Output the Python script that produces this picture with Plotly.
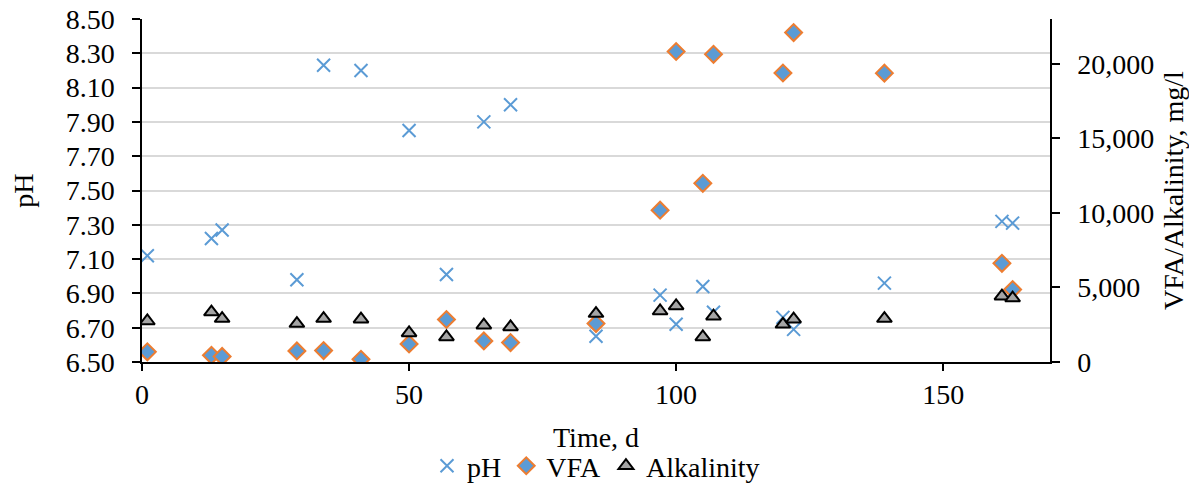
import plotly.graph_objects as go

days = [1, 13, 15, 29, 34, 41, 50, 57, 64, 69, 85, 97, 100, 105, 107, 120, 122, 139, 161, 163]
ph = [7.12, 7.22, 7.27, 6.98, 8.23, 8.20, 7.85, 7.01, 7.90, 8.00, 6.65, 6.89, 6.72, 6.94, 6.79, 6.76, 6.69, 6.96, 7.32, 7.31]
vfa = [680, 450, 370, 740, 770, 180, 1210, 2850, 1410, 1300, 2580, 10180, 20820, 11980, 20630, 19380, 22090, 19370, 6620, 4860]
alkalinity = [2750, 3350, 2910, 2580, 2910, 2870, 1950, 1680, 2470, 2350, 3250, 3420, 3760, 1680, 3070, 2530, 2870, 2910, 4410, 4290]

FONT = "Liberation Serif"
FS = 28

fig = go.Figure()
fig.add_trace(go.Scatter(
    x=days, y=ph, name="pH", mode="markers",
    marker=dict(symbol="x-thin", size=13, line=dict(color="#5B9BD5", width=2)),
))
fig.add_trace(go.Scatter(
    x=days, y=vfa, name="VFA", mode="markers", yaxis="y2",
    marker=dict(symbol="diamond", size=13, color="#5B9BD5", line=dict(color="#ED7D31", width=2)),
))
fig.add_trace(go.Scatter(
    x=days, y=alkalinity, name="Alkalinity", mode="markers", yaxis="y2",
    marker=dict(symbol="triangle-up", size=13, color="#A5A5A5", line=dict(color="black", width=2)),
))

fig.update_layout(
    width=1189, height=488,
    margin=dict(l=142, r=139, t=19, b=126, autoexpand=False),
    paper_bgcolor="white", plot_bgcolor="white",
    font=dict(family=FONT, size=FS, color="black"),
    showlegend=True,
    legend=dict(orientation="h", x=0.5, xanchor="center", xref="paper",
                yref="container", y=0.045, yanchor="middle",
                font=dict(family=FONT, size=FS), itemwidth=30, tracegroupgap=0),
    xaxis=dict(
        range=[0, 170], tickvals=[0, 50, 100, 150], showgrid=False, zeroline=False,
        showline=True, linecolor="black", linewidth=1.5,
        ticks="outside", ticklen=7, tickcolor="black", tickwidth=1.5,
        tickfont=dict(size=FS),
    ),
    yaxis=dict(
        range=[6.5, 8.5], dtick=0.2, tick0=6.5, tickformat=".2f",
        showgrid=True, gridcolor="#D9D9D9", gridwidth=1.5, zeroline=False,
        showline=True, linecolor="black", linewidth=1.5,
        ticks="outside", ticklen=8, tickcolor="black", tickwidth=1.5,
        ticklabelstandoff=12,
        title=dict(text="pH", standoff=24, font=dict(size=FS)),
        tickfont=dict(size=FS),
    ),
    yaxis2=dict(
        overlaying="y", side="right", range=[0, 23000], dtick=5000, tickformat=",",
        showgrid=False, zeroline=False,
        showline=True, linecolor="black", linewidth=1.5,
        ticks="outside", ticklen=8, tickcolor="black", tickwidth=1.5,
        ticklabelstandoff=12,
        title=dict(text="VFA/Alkalinity, mg/l", standoff=14, font=dict(size=FS)),
        tickfont=dict(size=FS),
    ),
    annotations=[dict(
        text="Time, d", xref="paper", yref="paper", x=0.5, y=-0.219,
        xanchor="center", yanchor="middle", showarrow=False,
        font=dict(family=FONT, size=FS, color="black"),
    )],
)

fig.write_html("out.html")
